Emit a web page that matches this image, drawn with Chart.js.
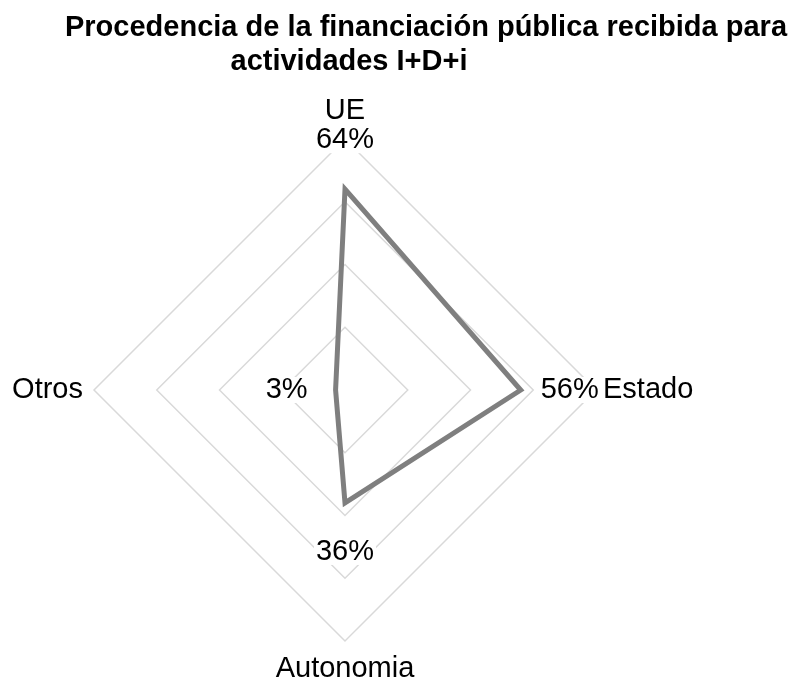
<!DOCTYPE html>
<html>
<head>
<meta charset="utf-8">
<title>Procedencia de la financiación pública</title>
<script src="https://cdn.jsdelivr.net/npm/chart.js@4"></script>
<style>
  html, body { margin: 0; padding: 0; background: #fff; }
  #wrap { position: relative; width: 792px; height: 682px; }
</style>
</head>
<body>
<div id="wrap"><canvas id="radarChart"></canvas></div>
<script>
// datos
const titleLines = ["Procedencia de la financiación pública recibida para", "actividades I+D+i"];
const categories = ["UE", "Estado", "Autonomia", "Otros"];
const shares = [64, 56, 36, 3];
const gridSteps = [20, 40, 60, 80];

const FONT = '"Liberation Sans", Arial, sans-serif';

// titulo y etiquetas dibujados a mano sobre el canvas
const labelsPlugin = {
  id: "radarLabels",
  afterDatasetsDraw(chart) {
    const ctx = chart.ctx;
    const r = chart.scales.r;
    ctx.save();

    // titulo
    ctx.font = "bold 29px " + FONT;
    ctx.fillStyle = "#000";
    ctx.textAlign = "center";
    ctx.textBaseline = "alphabetic";
    ctx.fillText(titleLines[0], 426, 36);
    ctx.fillText(titleLines[1], 349, 70);

    ctx.font = "29px " + FONT;
    ctx.textBaseline = "middle";

    categories.forEach((cat, i) => {
      // etiqueta de valor con fondo blanco
      const txt = shares[i] + "%";
      const p = r.getPointPosition(i, r.getDistanceFromCenterForValue(shares[i]) + 49);
      const w = ctx.measureText(txt).width;
      ctx.fillStyle = "#fff";
      ctx.fillRect(p.x - w / 2 - 2, p.y - 13, w + 4, 26);
      ctx.fillStyle = "#000";
      ctx.textAlign = "center";
      ctx.fillText(txt, p.x, p.y);

      // nombre de la categoria
      const angle = r.getIndexAngle(i);
      const sx = Math.sin(angle);
      let q;
      if (Math.abs(sx) < 0.3) {
        q = r.getPointPosition(i, r.drawingArea + 28);
        ctx.textAlign = "center";
      } else {
        q = r.getPointPosition(i, r.drawingArea + (sx > 0 ? 7 : 11));
        ctx.textAlign = sx > 0 ? "left" : "right";
      }
      ctx.fillText(cat, q.x, q.y);
    });
    ctx.restore();
  }
};

const ctx = document.getElementById("radarChart").getContext("2d");
new Chart(ctx, {
  type: "radar",
  data: {
    labels: categories,
    datasets: [
      {
        label: "Financiación pública",
        data: shares,
        borderColor: "#7f7f7f",
        backgroundColor: "rgba(0,0,0,0)",
        borderWidth: 5,
        borderJoinStyle: "miter",
        fill: false,
        pointRadius: 0,
        pointHoverRadius: 0,
        tension: 0,
      },
    ],
  },
  options: {
    responsive: true,
    maintainAspectRatio: false,
    animation: false,
    layout: {
      padding: { left: 94, right: 196, top: 139, bottom: 41 },
    },
    plugins: {
      legend: { display: false },
      tooltip: { enabled: false },
      title: { display: false },
    },
    scales: {
      r: {
        min: 0,
        max: gridSteps[gridSteps.length - 1],
        ticks: { display: false, stepSize: gridSteps[1] - gridSteps[0] },
        grid: { color: "#d9d9d9", lineWidth: 1.5 },
        angleLines: { display: false },
        pointLabels: { display: false },
      },
    },
  },
  plugins: [labelsPlugin],
});
</script>
</body>
</html>
